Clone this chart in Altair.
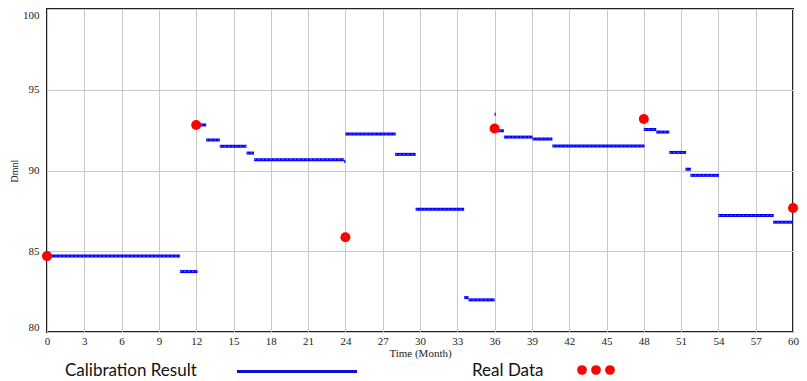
import altair as alt
import pandas as pd

# Calibration result: piecewise-constant segments (month start, month end, value)
seg_start = [0, 10.7, 12.1, 12.8, 13.9, 16.05, 16.65, 23.9, 24.0, 28.0, 29.65, 33.55, 33.9,
             36.0, 36.05, 36.75, 39.05, 40.65, 48.0, 49.0, 50.05, 51.35, 51.75, 54.0, 58.4]
seg_end = [10.7, 12.1, 12.8, 13.9, 16.05, 16.65, 23.9, 24.0, 28.05, 29.65, 33.55, 33.9, 36.0,
           36.1, 36.75, 39.05, 40.65, 48.05, 49.0, 50.05, 51.4, 51.8, 54.05, 58.45, 60]
seg_value = [84.70, 83.74, 92.82, 91.89, 91.50, 91.08, 90.67, 90.55, 92.26, 91.00, 87.60, 82.13, 81.99,
             93.48, 92.46, 92.07, 91.95, 91.52, 92.54, 92.38, 91.12, 90.08, 89.70, 87.21, 86.80]

# Real data points
real_month = [0, 12, 24, 36, 48, 60]
real_value = [84.70, 92.82, 85.87, 92.60, 93.19, 87.68]

x_ticks = list(range(0, 61, 3))
y_ticks = [80, 85, 90, 95, 100]

seg_df = pd.DataFrame({"start": seg_start, "end": seg_end, "value": seg_value})
real_df = pd.DataFrame({"month": real_month, "value": real_value})

BLUE = "#0000ff"
RED = "#ff0000"

x_scale = alt.Scale(domain=[0, 60], nice=False, zero=False)
y_scale = alt.Scale(domain=[80, 100], nice=False, zero=False)

x_axis = alt.Axis(values=x_ticks, title="Time (Month)", grid=True, gridColor="#c8c8c8",
                  gridWidth=1, ticks=False, domain=False, labelPadding=3, titlePadding=1,
                  labelFont="Liberation Serif", labelFontSize=11, labelColor="#222",
                  titleFont="Liberation Serif", titleFontSize=11, titleFontWeight="normal",
                  titleColor="#222", labelFlush=False, labelOverlap=False, labelBound=False)
y_axis = alt.Axis(values=y_ticks, title="Dmnl", grid=True, gridColor="#c8c8c8",
                  gridWidth=1, ticks=False, domain=False, labelPadding=8, titlePadding=3,
                  labelFont="Liberation Serif", labelFontSize=11, labelColor="#222",
                  titleFont="Liberation Serif", titleFontSize=10, titleFontWeight="normal",
                  titleColor="#222", labelFlush=True, labelOverlap=False)

segments = alt.Chart(seg_df).mark_rule(color=BLUE, strokeWidth=3).encode(
    x=alt.X("start:Q", scale=x_scale, axis=x_axis),
    x2="end:Q",
    y=alt.Y("value:Q", scale=y_scale, axis=y_axis),
)
# faint dotted texture along the calibration line
segments_dots = alt.Chart(seg_df).mark_rule(color="#5a5aff", strokeWidth=1,
                                            strokeDash=[2, 2]).encode(
    x=alt.X("start:Q", scale=x_scale, axis=x_axis),
    x2="end:Q",
    y=alt.Y("value:Q", scale=y_scale, axis=y_axis),
)

points = alt.Chart(real_df).mark_circle(color=RED, size=100, opacity=1).encode(
    x=alt.X("month:Q", scale=x_scale, axis=x_axis),
    y=alt.Y("value:Q", scale=y_scale, axis=y_axis),
)

one = pd.DataFrame({"k": [0]})
LEG_FONT = "Lato"
LEG_BASE = 367
leg_text1 = alt.Chart(one).mark_text(align="left", baseline="alphabetic", font=LEG_FONT,
                                     fontSize=17, color="#111").encode(
    x=alt.value(18), y=alt.value(LEG_BASE), text=alt.value("Calibration Result"))
leg_line = alt.Chart(one).mark_rule(color="#1010d0", strokeWidth=3).encode(
    x=alt.value(190), x2=alt.value(310), y=alt.value(LEG_BASE - 4.5))
leg_text2 = alt.Chart(one).mark_text(align="left", baseline="alphabetic", font=LEG_FONT,
                                     fontSize=17, color="#111").encode(
    x=alt.value(425), y=alt.value(LEG_BASE), text=alt.value("Real Data"))
leg_dots = [alt.Chart(one).mark_circle(color=RED, size=95, opacity=1).encode(
    x=alt.value(px), y=alt.value(LEG_BASE - 6)) for px in (535, 549, 563)]

chart = alt.layer(segments, segments_dots, points, leg_text1, leg_line, leg_text2,
                  *leg_dots).properties(
    width=746, height=323,
    autosize=alt.AutoSizeParams(type="none"),
    padding={"left": 39, "top": 1, "right": 6, "bottom": 47},
    background="white",
).configure_view(stroke="#222", strokeWidth=2).configure_axis(labelOverlap=False)

chart.save("out.html", embed_options={"renderer": "svg", "actions": False})
